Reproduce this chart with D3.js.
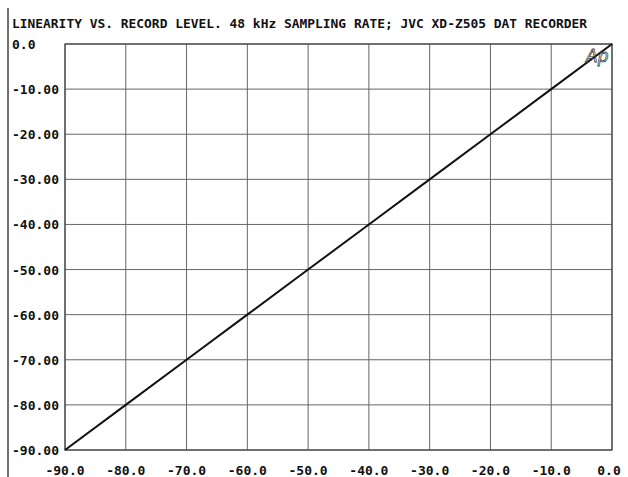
<!DOCTYPE html>
<html><head><meta charset="utf-8">
<script src="https://cdn.jsdelivr.net/npm/d3@7"></script>
<style>body{margin:0;background:#fff}svg{display:block}</style>
</head><body>
<script>
const title = "LINEARITY VS. RECORD LEVEL. 48 kHz SAMPLING RATE; JVC XD-Z505 DAT RECORDER";
const inputLevel = [-90, -80, -70, -60, -50, -40, -30, -20, -10, 0];
const outputLevel = [-90, -80, -70, -60, -50, -40, -30, -20, -10, 0];
const xTicks = [-90, -80, -70, -60, -50, -40, -30, -20, -10, 0];
const yTicks = [0, -10, -20, -30, -40, -50, -60, -70, -80, -90];
const xTickLabels = ["-90.0","-80.0","-70.0","-60.0","-50.0","-40.0","-30.0","-20.0","-10.0","0.0"];
const yTickLabels = ["0.0","-10.00","-20.00","-30.00","-40.00","-50.00","-60.00","-70.00","-80.00","-90.00"];

const W = 628, H = 477;
const L = 65, R = 612, T = 44, B = 450;
const svg = d3.select("body").append("svg").attr("width", W).attr("height", H);
const font = "'DejaVu Sans Mono', monospace";

const x = d3.scaleLinear().domain([-90, 0]).range([L, R]);
const y = d3.scaleLinear().domain([-90, 0]).range([B, T]);

// page edge line
svg.append("line").attr("x1", 8).attr("x2", 8).attr("y1", 8).attr("y2", H)
  .attr("stroke", "#222").attr("stroke-width", 1.3);

// title
svg.append("text").attr("x", 12).attr("y", 28).text(title)
  .attr("font-family", font).attr("font-size", 12.5).attr("font-weight", "bold")
  .attr("textLength", 575).attr("lengthAdjust", "spacingAndGlyphs").attr("fill", "#111");

// grid
const g = svg.append("g");
g.selectAll(".vx").data(xTicks).join("line")
  .attr("x1", d => x(d)).attr("x2", d => x(d)).attr("y1", T).attr("y2", B)
  .attr("stroke", "#666").attr("stroke-width", 1);
g.selectAll(".hy").data(yTicks).join("line")
  .attr("y1", d => y(d)).attr("y2", d => y(d)).attr("x1", L).attr("x2", R)
  .attr("stroke", "#666").attr("stroke-width", 1);
g.append("rect").attr("x", L).attr("y", T).attr("width", R - L).attr("height", B - T)
  .attr("fill", "none").attr("stroke", "#444").attr("stroke-width", 1.2);

// y labels
svg.selectAll(".yl").data(yTicks).join("text")
  .attr("x", 12).attr("y", d => y(d) + 5).text((d, i) => yTickLabels[i])
  .attr("font-family", font).attr("font-size", 13).attr("font-weight", "bold").attr("fill", "#111");

// x labels
svg.selectAll(".xl").data(xTicks).join("text")
  .attr("x", (d, i) => x(d) - (i === xTicks.length - 1 ? 3 : 0)).attr("y", 475)
  .attr("text-anchor", "middle").text((d, i) => xTickLabels[i])
  .attr("font-family", font).attr("font-size", 13).attr("font-weight", "bold").attr("fill", "#111");

// data line
const pts = inputLevel.map((v, i) => [v, outputLevel[i]]);
svg.append("path").datum(pts)
  .attr("d", d3.line().x(d => x(d[0])).y(d => y(d[1])))
  .attr("fill", "none").attr("stroke", "#111").attr("stroke-width", 2);

// Ap logo
svg.append("text").attr("x", 586).attr("y", 62).text("Ap")
  .attr("font-family", "'DejaVu Sans', sans-serif").attr("font-style", "italic")
  .attr("font-size", 17).attr("fill", "none").attr("stroke", "#444").attr("stroke-width", 0.8);
</script>
</body></html>
